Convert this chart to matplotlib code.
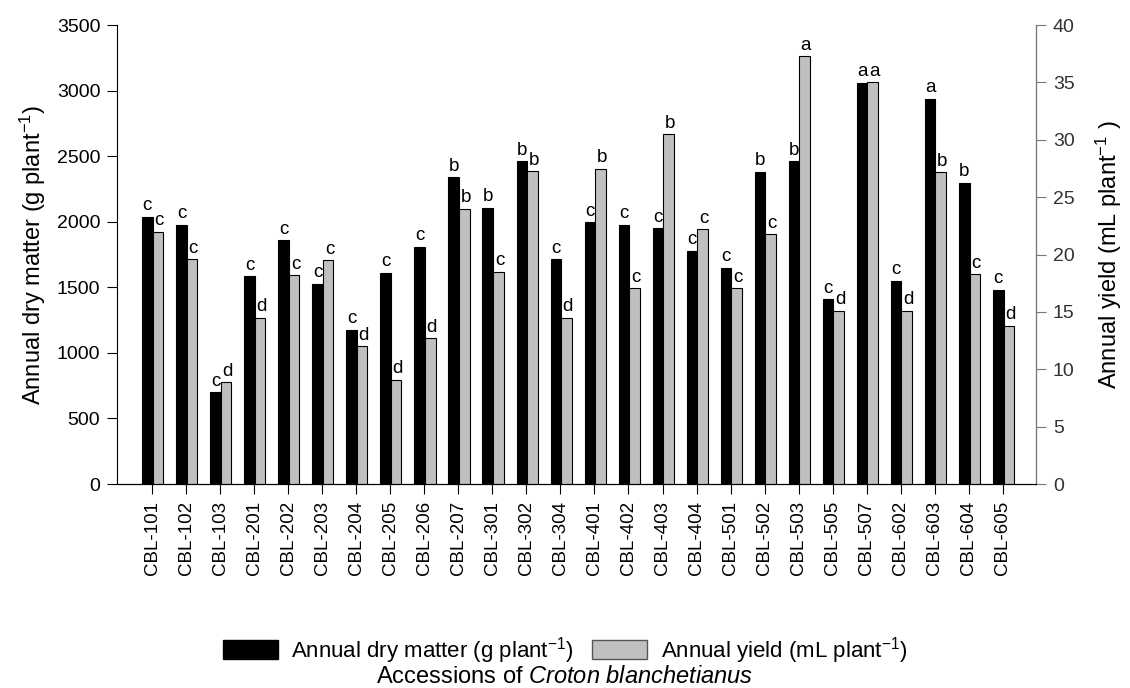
import matplotlib
matplotlib.use("Agg")
import matplotlib.pyplot as plt
import numpy as np
from matplotlib.patches import Patch

plt.rcParams['font.family'] = ['Liberation Sans', 'DejaVu Sans']
plt.rcParams['mathtext.fontset'] = 'custom'
plt.rcParams['mathtext.rm'] = 'Liberation Sans'
plt.rcParams['mathtext.it'] = 'Liberation Sans:italic'
plt.rcParams['mathtext.sf'] = 'Liberation Sans'

accessions = ["CBL-101", "CBL-102", "CBL-103", "CBL-201", "CBL-202", "CBL-203",
              "CBL-204", "CBL-205", "CBL-206", "CBL-207", "CBL-301", "CBL-302",
              "CBL-304", "CBL-401", "CBL-402", "CBL-403", "CBL-404", "CBL-501",
              "CBL-502", "CBL-503", "CBL-505", "CBL-507", "CBL-602", "CBL-603",
              "CBL-604", "CBL-605"]

dry_matter = [2040, 1975, 700, 1585, 1860, 1525, 1175, 1610, 1810, 2340, 2105, 2460,
              1715, 1995, 1975, 1950, 1780, 1650, 2380, 2460, 1410, 3060, 1550, 2940,
              2295, 1480]

oil_yield = [22.0, 19.6, 8.9, 14.5, 18.2, 19.5, 12.0, 9.1, 12.7, 24.0, 18.5, 27.3,
             14.5, 27.5, 17.1, 30.5, 22.2, 17.1, 21.8, 37.3, 15.1, 35.0, 15.1, 27.2,
             18.3, 13.8]

dry_letters = list("ccccccccc" "bbbcccccc" "bbcacabc")
yield_letters = list("ccddccddd" "bcbdbcbcc" "cadadbcd")

x = np.arange(len(accessions))
w = 0.31

fig = plt.figure(figsize=(11.3, 6.88), dpi=100)
ax = fig.add_axes([0.1035, 0.2965, 0.8135, 0.667])
ax2 = ax.twinx()

ax.bar(x - w / 2 + 0.02, dry_matter, w, color="black", edgecolor="black", linewidth=0.8, zorder=2)
ax2.bar(x + w / 2 + 0.02, oil_yield, w, color="#c0c0c0", edgecolor="black", linewidth=0.8, zorder=2)

# significance letters above each bar
for xi, v, t in zip(x, dry_matter, dry_letters):
    ax.text(xi - w / 2 + 0.02, v + 20, t, ha="center", va="bottom", fontsize=13.5)
for xi, v, t in zip(x, oil_yield, yield_letters):
    ax2.text(xi + w / 2 + 0.06, v + 0.2, t, ha="center", va="bottom", fontsize=13.5)

ax.set_xlim(-1.03, 25.98)
ax.set_ylim(0, 3500)
ax2.set_ylim(0, 40)
ax.set_yticks(np.arange(0, 3501, 500))
ax2.set_yticks(np.arange(0, 41, 5))
ax.set_xticks(x)
ax.set_xticklabels(accessions, rotation=90)

ax.tick_params(axis="both", direction="out", length=7, labelsize=14, pad=5)
ax.tick_params(axis="x", labelsize=13.5)
ax2.tick_params(axis="y", direction="out", length=7, labelsize=14, pad=5,
                color="#777777", labelcolor="#333333")

for a in (ax, ax2):
    a.spines["top"].set_visible(False)
ax2.spines["right"].set_color("#777777")
ax2.spines["left"].set_visible(False)

ax.set_ylabel("Annual dry matter (g plant$^{-1}$)", fontsize=17, labelpad=6)
ax2.set_ylabel("Annual yield (mL plant$^{-1}$ )", fontsize=17, labelpad=14)

handles = [Patch(facecolor="black", edgecolor="black"),
           Patch(facecolor="#c0c0c0", edgecolor="#555555")]
labels = ["Annual dry matter (g plant$^{-1}$)", "Annual yield (mL plant$^{-1}$)"]
fig.legend(handles, labels, loc="center", bbox_to_anchor=(0.5, 0.055), ncol=2,
           frameon=False, fontsize=16, handlelength=2.5, handleheight=0.9,
           columnspacing=0.8, handletextpad=0.6)

fig.text(0.5, 0.016, "Accessions of $\\it{Croton\\ blanchetianus}$", ha="center", va="center",
         fontsize=17)

fig.savefig("out.png", dpi=100)
